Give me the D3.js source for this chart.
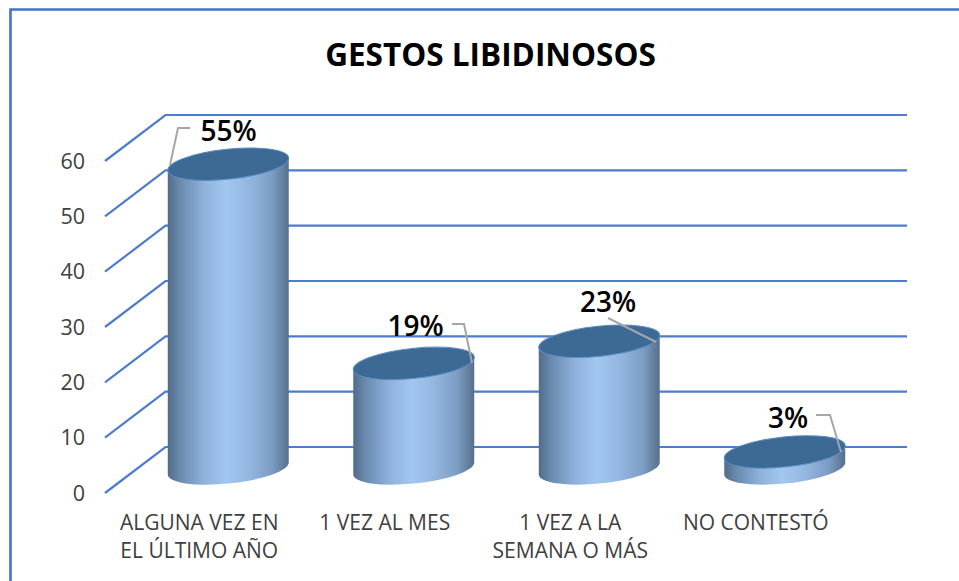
<!DOCTYPE html>
<html><head><meta charset="utf-8">
<script src="https://cdn.jsdelivr.net/npm/d3@7"></script>
<style>html,body{margin:0;padding:0;background:#fff}svg{display:block}text{font-family:"Open Sans","Noto Sans",sans-serif}</style>
</head><body><svg id="c" width="959" height="581"></svg>
<script>
const title = "GESTOS LIBIDINOSOS";
const categories = ["ALGUNA VEZ EN|EL ÚLTIMO AÑO", "1 VEZ AL MES", "1 VEZ A LA|SEMANA O MÁS", "NO CONTESTÓ"];
const values = [55, 19, 23, 3];
const labels = ["55%", "19%", "23%", "3%"];
const yTicks = [0, 10, 20, 30, 40, 50, 60];

const svg = d3.select("#c");
const y = d3.scaleLinear().domain([0, 60]).range([447, 115]);
const x = d3.scaleBand().domain(categories).range([135.5, 877.5]).paddingInner(0.344).paddingOuter(0.172);
const depthX = 60.5, depthY = 46;
const wallL = 165.5, wallR = 907;
const blue = "#4d7ccb";

svg.append("rect").attr("x", 0).attr("y", 0).attr("width", 959).attr("height", 581).attr("fill", "#fff");
// chart frame
svg.append("path").attr("d", "M10.5,581V9.5H959").attr("fill", "none").attr("stroke", "#4472c4").attr("stroke-width", 2.6);

const defs = svg.append("defs");
const grad = defs.append("linearGradient").attr("id", "cyl").attr("x1", 0).attr("x2", 1).attr("y1", 0).attr("y2", 0);
[[0, "#526c8a"], [0.1, "#6a8aae"], [0.3, "#8fb2dc"], [0.48, "#a1c6f0"], [0.66, "#95b8e2"], [0.86, "#7c9dc4"], [1, "#566f8c"]]
  .forEach(([o, c]) => grad.append("stop").attr("offset", o).attr("stop-color", c));

// gridlines
yTicks.forEach(t => {
  svg.append("path")
    .attr("d", `M${wallL - depthX},${y(t) + depthY}L${wallL},${y(t)}H${wallR}`)
    .attr("fill", "none").attr("stroke", blue).attr("stroke-width", 2.2);
});
// value axis
svg.append("g").selectAll("text").data(yTicks).join("text")
  .attr("x", 85).attr("y", d => y(d) + depthY + 2).attr("text-anchor", "end")
  .attr("dominant-baseline", "middle")
  .attr("font-size", 21.5).attr("fill", "#404040").text(d => d);

// cylinders
const a = 60.8, b = 15, th = 6 * Math.PI / 180;
const X = Math.sqrt(a*a*Math.cos(th)**2 + b*b*Math.sin(th)**2);
const off = (a*a - b*b) * Math.sin(th) * Math.cos(th) / X;
const frontShift = 21.5;
values.forEach((v, i) => {
  const c = categories[i];
  const cx = x(c) + x.bandwidth() / 2;
  const top = y(v) + frontShift, bot = y(0) + frontShift;
  svg.append("path")
    .attr("d", `M${cx - X},${top + off}L${cx - X},${bot + off}A${a},${b} -6 0 0 ${cx + X},${bot - off}L${cx + X},${top - off}Z`)
    .attr("fill", "url(#cyl)");
  svg.append("ellipse")
    .attr("rx", a).attr("ry", b)
    .attr("transform", `translate(${cx},${top}) rotate(-6)`)
    .attr("fill", "#3d6a94").attr("stroke", "#5a8cc6").attr("stroke-width", 1);
});

// data labels with leader lines
const labelPos = [[228.5, 141], [415.5, 336], [608, 312], [788, 428]];
const leaders = [
  [[190, 128], [178, 128], [170, 165]],
  [[452, 324], [464, 324], [472, 363]],
  [[608, 318], [656, 342]],
  [[816, 415], [830, 415], [841, 452]]
];
labels.forEach((l, i) => {
  svg.append("path").attr("d", d3.line()(leaders[i]))
    .attr("fill", "none").attr("stroke", "#a6a6a6").attr("stroke-width", 2);
  svg.append("text").attr("x", labelPos[i][0]).attr("y", labelPos[i][1])
    .attr("text-anchor", "middle").attr("font-size", 28).attr("font-weight", 600)
    .attr("fill", "#000").text(l);
});

// category labels
categories.forEach(c => {
  const cx = x(c) + x.bandwidth() / 2 - 29;
  const t = svg.append("text").attr("text-anchor", "middle").attr("font-size", 21).attr("fill", "#404040");
  c.split("|").forEach((s, j) => t.append("tspan").attr("x", cx).attr("y", 530 + j * 28).text(s));
});

svg.append("text").attr("x", 490.5).attr("y", 66).attr("text-anchor", "middle")
  .attr("font-size", 31.5).attr("font-weight", 700).attr("fill", "#000").text(title);
</script></body></html>
